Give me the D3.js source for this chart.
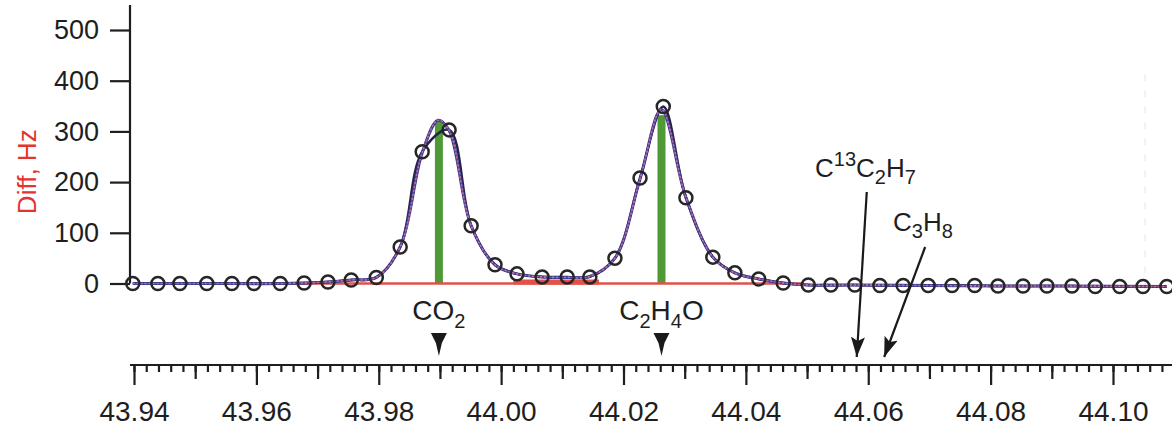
<!DOCTYPE html>
<html>
<head>
<meta charset="utf-8">
<script src="https://cdn.jsdelivr.net/npm/d3@7"></script>
<style>
  html, body { margin: 0; padding: 0; background: #fff; }
  svg { display: block; font-family: "Liberation Sans", Arial, sans-serif; }
</style>
</head>
<body>
<svg id="chart" width="1172" height="432"></svg>
<script>
/* global d3 */

// measured points (open circles)
const MASS = [43.9398, 43.9439, 43.9475, 43.9519, 43.9560, 43.9596, 43.9639, 43.9678, 43.9717, 43.9755,
  43.9796, 43.9835, 43.9871, 43.9915, 43.9951, 43.9990, 44.0026, 44.0067, 44.0108, 44.0145,
  44.0186, 44.0227, 44.0265, 44.0302, 44.0346, 44.0382, 44.0421, 44.0461, 44.0502, 44.0539,
  44.0578, 44.0619, 44.0657, 44.0698, 44.0737, 44.0774, 44.0812, 44.0853, 44.0892, 44.0933,
  44.0971, 44.1011, 44.1049, 44.1088];
const DIFF_HZ = [0, 0, 0, 0, 0, 0, 0, 1, 3, 7,
  12, 72, 260, 303, 114, 37, 19, 13, 13, 13,
  50, 208, 349, 169, 52, 21, 9, 1, -3, -3,
  -3, -4, -4, -4, -4, -4, -5, -5, -5, -5,
  -6, -6, -6, -6];

// fitted curve (purple)
const FIT_MASS = [43.9398, 43.9519, 43.9639, 43.9717, 43.9755, 43.9796, 43.9835, 43.9871, 43.9897, 43.9915,
  43.9951, 43.9990, 44.0026, 44.0067, 44.0108, 44.0145, 44.0186, 44.0227, 44.0262, 44.0302,
  44.0346, 44.0382, 44.0421, 44.0461, 44.0502, 44.0578, 44.0698, 44.0812, 44.0933, 44.1088];
const FIT_HZ = [0, 0, 0, 3, 7, 12, 72, 258, 322, 302,
  114, 37, 19, 13, 12, 14, 50, 206, 343, 170,
  52, 21, 9, 1, -3, -3, -4, -5, -5, -6];

// red baseline pieces
const BASE_MASS = [43.9655, 44.0495];
const BASE_HZ = [0, 0];
const VALLEY_MASS = [44.0020, 44.0160];
const VALLEY_HZ = [3, 3];

// assigned peaks (green sticks)
const PEAK_MASS = [43.98983, 44.02621];
const PEAK_HZ = [322, 332];

// candidate ions
const CO2_MASS = 43.98983;
const C2H4O_MASS = 44.02621;
const C13C2H7_MASS = 44.05812;
const C3H8_MASS = 44.06260;

const Y_TICKS = [0, 100, 200, 300, 400, 500];
const X_MAJOR = [43.94, 43.96, 43.98, 44.00, 44.02, 44.04, 44.06, 44.08, 44.10];

const svg = d3.select('#chart');
const W = 1172, H = 432;
const INK = '#1e1e1e';

const x = d3.scaleLinear().domain([43.94, 44.10]).range([134, 1113]);
const y = d3.scaleLinear().domain([0, 500]).range([283.5, 30]);

svg.append('rect').attr('width', W).attr('height', H).attr('fill', '#fff');

// faint frame line at right
svg.append('line')
  .attr('x1', 1145).attr('x2', 1145).attr('y1', 75).attr('y2', 290)
  .attr('stroke', '#e2e2f4').attr('stroke-width', 1).attr('stroke-dasharray', '6,10');

// y axis
const yAxis = svg.append('g').attr('transform', 'translate(130,0)')
  .call(d3.axisLeft(y).tickValues(Y_TICKS).tickSize(20).tickPadding(11).tickFormat(d3.format('d')));
yAxis.select('.domain').remove();
yAxis.selectAll('line').attr('stroke', INK).attr('stroke-width', 2.2);
yAxis.selectAll('text').attr('font-size', 27).attr('fill', INK).attr('font-family', 'Liberation Sans, Arial, sans-serif');
svg.append('line').attr('x1', 130).attr('x2', 130).attr('y1', 5).attr('y2', y(0))
  .attr('stroke', INK).attr('stroke-width', 2.2);

svg.append('text')
  .attr('transform', `translate(36,${(y(0) + y(500)) / 2 + 15}) rotate(-90)`)
  .attr('text-anchor', 'middle')
  .attr('font-size', 26)
  .attr('fill', '#e3342f')
  .text('Diff, Hz');

// x axis (separate ruler below)
const AXIS_Y = 365;
const minor = d3.range(0, 85).map(i => 43.94 + i * 0.002);
const medium = d3.range(0, 9).map(i => 43.95 + i * 0.02).filter(v => v < 44.11);
const gx = svg.append('g').attr('transform', `translate(0,${AXIS_Y})`);
gx.append('g').call(d3.axisBottom(x).tickValues(minor).tickSize(7).tickFormat(''))
  .call(g => g.select('.domain').remove());
gx.append('g').call(d3.axisBottom(x).tickValues(medium).tickSize(14).tickFormat(''))
  .call(g => g.select('.domain').remove());
gx.append('g').call(d3.axisBottom(x).tickValues(X_MAJOR).tickSize(20).tickPadding(16).tickFormat(d3.format('.2f')))
  .call(g => g.select('.domain').remove());
gx.selectAll('line').attr('stroke', INK).attr('stroke-width', 2.2);
gx.selectAll('text').attr('font-size', 28).attr('fill', INK).attr('font-family', 'Liberation Sans, Arial, sans-serif');
gx.append('line').attr('x1', 130).attr('x2', W).attr('y1', 0).attr('y2', 0)
  .attr('stroke', INK).attr('stroke-width', 2.2);

// green sticks
svg.append('g').selectAll('rect').data(PEAK_MASS).enter().append('rect')
  .attr('x', d => x(d) - 4)
  .attr('y', (d, i) => y(PEAK_HZ[i]))
  .attr('width', 8)
  .attr('height', (d, i) => y(0) - y(PEAK_HZ[i]))
  .attr('fill', '#4f9a37');

// red baseline
const lineLin = d3.line().x(d => x(d[0])).y(d => y(d[1]));
svg.append('path').datum(BASE_MASS.map((m, i) => [m, BASE_HZ[i]]))
  .attr('d', lineLin).attr('fill', 'none').attr('stroke', '#e25048').attr('stroke-width', 2.5);
svg.append('path').datum(VALLEY_MASS.map((m, i) => [m, VALLEY_HZ[i]]))
  .attr('d', lineLin).attr('fill', 'none').attr('stroke', '#e25048').attr('stroke-width', 5);

// data connecting line
const data = MASS.map((m, i) => [m, DIFF_HZ[i]]);
svg.append('path').datum(data)
  .attr('d', d3.line().x(d => x(d[0])).y(d => y(d[1])).curve(d3.curveCatmullRom.alpha(0.5)))
  .attr('fill', 'none').attr('stroke', '#24244a').attr('stroke-width', 2.5);

// fitted curve
const fit = FIT_MASS.map((m, i) => [m, FIT_HZ[i]]);
const fitLine = d3.line().x(d => x(d[0])).y(d => y(d[1])).curve(d3.curveCatmullRom.alpha(0.5));
svg.append('path').datum(fit).attr('d', fitLine)
  .attr('fill', 'none').attr('stroke', '#3a3688').attr('stroke-width', 3);
svg.append('path').datum(fit).attr('d', fitLine)
  .attr('fill', 'none').attr('stroke', '#9a7fe0').attr('stroke-width', 1.6).attr('stroke-dasharray', '2,2');
svg.append('path').datum(fit).attr('d', fitLine)
  .attr('fill', 'none').attr('stroke', '#d85a6a').attr('stroke-width', 0.8).attr('opacity', 0.7);

// circles
svg.append('g').selectAll('circle').data(data).enter().append('circle')
  .attr('cx', d => x(d[0]))
  .attr('cy', d => y(d[1]))
  .attr('r', 6.5)
  .attr('fill', 'none')
  .attr('stroke', '#262626')
  .attr('stroke-width', 2.5);

// formula labels
function formula(parent, px, py, parts, size, subSize, anchor) {
  const t = parent.append('text').attr('x', px).attr('y', py)
    .attr('text-anchor', anchor).attr('font-size', size).attr('fill', INK);
  let shift = 0;
  parts.forEach(([s, kind]) => {
    const target = kind === 'sub' ? 0.27 * size : kind === 'sup' ? -0.42 * size : 0;
    t.append('tspan').attr('dy', target - shift)
      .attr('font-size', kind ? subSize : size).text(s);
    shift = target;
  });
  return t;
}

formula(svg, x(CO2_MASS), 320, [['CO'], ['2', 'sub']], 28, 20, 'middle');
formula(svg, x(C2H4O_MASS), 320, [['C'], ['2', 'sub'], ['H'], ['4', 'sub'], ['O']], 28, 20, 'middle');
formula(svg, 815, 177, [['C'], ['13', 'sup'], ['C'], ['2', 'sub'], ['H'], ['7', 'sub']], 26, 20, 'start');
formula(svg, 893, 231, [['C'], ['3', 'sub'], ['H'], ['8', 'sub']], 26, 20, 'start');

// small down markers under CO2 / C2H4O
svg.append('g').selectAll('path').data([CO2_MASS, C2H4O_MASS]).enter().append('path')
  .attr('d', d => `M${x(d) - 8},333 L${x(d) + 8},333 L${x(d) + 3},343 L${x(d)},356 L${x(d) - 3},343 Z`)
  .attr('fill', '#1a1a1a');

// long arrows
const defs = svg.append('defs');
defs.append('marker').attr('id', 'ah')
  .attr('markerUnits', 'userSpaceOnUse')
  .attr('markerWidth', 22).attr('markerHeight', 14)
  .attr('refX', 20).attr('refY', 7).attr('orient', 'auto')
  .append('path').attr('d', 'M0,0 L20,7 L0,14 L4,7 Z').attr('fill', '#1a1a1a');

const arrows = [
  { tip: C13C2H7_MASS, dx: 10, dy: -165 },
  { tip: C3H8_MASS, dx: 41, dy: -110 }
];
svg.append('g').selectAll('line').data(arrows).enter().append('line')
  .attr('x1', d => x(d.tip) + d.dx)
  .attr('y1', d => 357 + d.dy)
  .attr('x2', d => x(d.tip))
  .attr('y2', 357)
  .attr('stroke', '#1a1a1a')
  .attr('stroke-width', 2.2)
  .attr('marker-end', 'url(#ah)');
</script>
</body>
</html>
